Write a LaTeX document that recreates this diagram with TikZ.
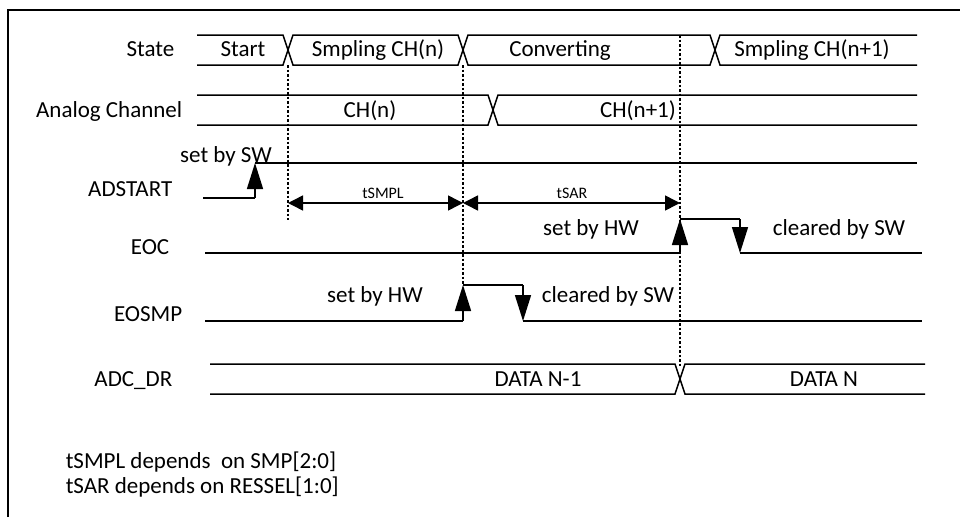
\documentclass[tikz,border=0pt]{standalone}
\usepackage{fontspec}
\setmainfont{Carlito}
\usetikzlibrary{arrows.meta}

\begin{document}
\begin{tikzpicture}[x=1pt,y=-1pt,line width=1.5pt,
    lbl/.style={inner sep=0pt,font=\fontsize{23}{27}\selectfont,text height=14.5pt,text depth=0pt},
    signame/.style={lbl,anchor=east},
    timelbl/.style={inner sep=0pt,font=\fontsize{16}{19}\selectfont,text height=10pt,text depth=0pt},
    toggle/.style={-{Triangle[length=26pt,width=16pt]}},
    timespan/.style={{Triangle[length=15pt,width=15pt]}-{Triangle[length=15pt,width=15pt]}},
    guide/.style={line width=1.2pt,dash pattern=on 2.5pt off 2pt}]
  \useasboundingbox (0,0) rectangle (960,517);
  \draw (8,517) -- (8,10) -- (960,10);

  \node[signame] (state) at (175,49) {State};
  \draw (197,35) -- (283,35) -- (293,65) -- (458,65) -- (468,35) -- (710,35) -- (720,65) -- (917,65);
  \draw (197,65) -- (283,65) -- (293,35) -- (458,35) -- (468,65) -- (710,65) -- (720,35) -- (917,35);
  \node[lbl] (start) at (243,49) {Start};
  \node[lbl] (smpn) at (378,49) {Smpling CH(n)};
  \node[lbl] (conv) at (560,49) {Converting};
  \node[lbl] (smpnext) at (812,49) {Smpling CH(n+1)};

  \node[signame] (analog) at (183,110) {Analog Channel};
  \draw (197,95) -- (488,95) -- (498,125) -- (917,125);
  \draw (197,125) -- (488,125) -- (498,95) -- (917,95);
  \node[lbl] (chn) at (370,110) {CH(n)};
  \node[lbl] (chnext) at (638,110) {CH(n+1)};

  \draw[guide] (288,65) -- (288,220);
  \draw[guide] (463,65) -- (463,285);
  \draw[guide] (680,35) -- (680,367);

  \node[signame] (adstart) at (173,189) {ADSTART};
  \coordinate (swrise) at (255,198);
  \coordinate (swhigh) at (255,163);
  \draw (203,198) -- (swrise);
  \draw[toggle] (swrise) -- (swhigh);
  \draw (swhigh) -- (917,163);
  \node[lbl] (setsw) at (226,155) {set by SW};

  \coordinate (t0) at (288,203);
  \coordinate (t1) at (463,203);
  \coordinate (t2) at (680,203);
  \draw[timespan] (t0) -- (t1);
  \draw[timespan] (t1) -- (t2);
  \node[timelbl] (tsmpl) at (383,193) {tSMPL};
  \node[timelbl] (tsar) at (572,193) {tSAR};

  \node[signame] (eoc) at (170,247) {EOC};
  \coordinate (eocrise) at (680,253);
  \coordinate (eochigh) at (680,219);
  \coordinate (eocfall) at (740,219);
  \coordinate (eoclow) at (740,253);
  \draw (205,253) -- (eocrise);
  \draw[toggle] (eocrise) -- (eochigh);
  \draw (eochigh) -- (eocfall);
  \draw[toggle] (eocfall) -- (eoclow);
  \draw (eoclow) -- (922,253);
  \node[lbl] (eocset) at (591,228) {set by HW};
  \node[lbl] (eocclr) at (839,228) {cleared by SW};

  \node[signame] (eosmp) at (183,314) {EOSMP};
  \coordinate (smprise) at (463,321);
  \coordinate (smphigh) at (463,285);
  \coordinate (smpfall) at (523,285);
  \coordinate (smplow) at (523,321);
  \draw (205,321) -- (smprise);
  \draw[toggle] (smprise) -- (smphigh);
  \draw (smphigh) -- (smpfall);
  \draw[toggle] (smpfall) -- (smplow);
  \draw (smplow) -- (922,321);
  \node[lbl] (smpset) at (375,295) {set by HW};
  \node[lbl] (smpclr) at (608,295) {cleared by SW};

  \node[signame] (adcdr) at (173,379) {ADC\_DR};
  \draw (210,364) -- (675,364) -- (685,394) -- (925,394);
  \draw (210,394) -- (675,394) -- (685,364) -- (925,364);
  \node[lbl] (datprev) at (538,379) {DATA N-1};
  \node[lbl] (datnow) at (824,379) {DATA N};

  \node[lbl,anchor=west] (note1) at (65,461) {tSMPL depends~ on SMP[2:0]};
  \node[lbl,anchor=west] (note2) at (65,486) {tSAR depends on RESSEL[1:0]};
\end{tikzpicture}
\end{document}
